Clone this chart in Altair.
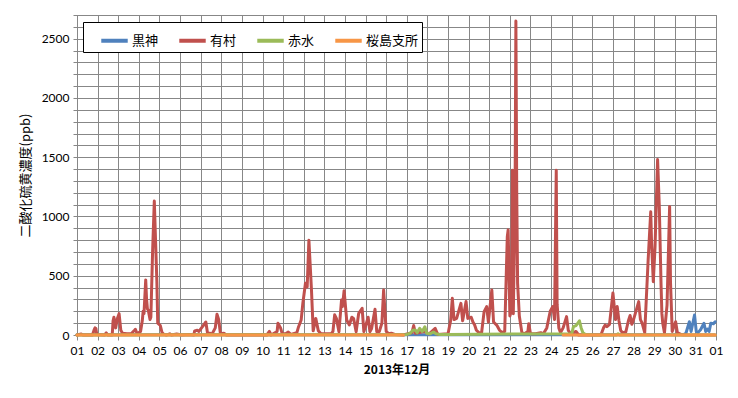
import altair as alt
import pandas as pd

# ---- data (day-of-December "DD HH", ppb) ----
series_names = ["黒神", "有村", "赤水", "桜島支所"]
series_colors = ["#4F81BD", "#C0504D", "#9BBB59", "#F79646"]

kurokami_time = ["01 00", "30 10", "30 13", "30 17", "30 19", "30 23", "31 01", "31 03",
                 "31 06", "31 10", "31 12", "31 14", "31 16", "31 18", "31 21", "31 23"]
kurokami_ppb = [2, 2, 15, 112, 30, 169, 30, 20, 45, 99, 30, 50, 30, 100, 95, 112]

arimura_time = [
    "01 00", "01 05", "01 07", "01 18", "01 20", "01 21", "01 22", "01 23",
    "02 08", "02 10", "02 12", "02 17", "02 18", "02 19", "02 21", "02 23",
    "03 01", "03 03", "03 05", "03 10", "03 15", "03 19", "03 20", "03 22",
    "04 02", "04 04", "04 05", "04 06", "04 08", "04 09", "04 10", "04 11",
    "04 13", "04 14", "04 16", "04 18", "04 19", "04 21", "04 22",
    "05 01", "05 03", "05 05", "05 08", "05 12", "05 14", "05 20",
    "06 02", "06 10", "06 16", "06 17", "06 20", "06 22",
    "07 01", "07 03", "07 06", "07 08", "07 11", "07 13", "07 17", "07 19", "07 21", "07 23",
    "08 03", "08 06", "10 05", "10 08", "10 10", "10 17", "10 18", "10 21", "10 23",
    "11 03", "11 06", "11 09", "11 16", "11 18", "11 21", "11 23",
    "12 02", "12 04", "12 06", "12 09", "12 11", "12 14", "12 17", "12 20",
    "13 08", "13 10", "13 12", "13 14", "13 17", "13 20", "13 21", "13 23",
    "14 02", "14 05", "14 08", "14 10", "14 13", "14 16", "14 20", "14 22",
    "15 01", "15 03", "15 05", "15 07", "15 11", "15 13", "15 16", "15 19", "15 21",
    "16 00", "16 03", "16 06", "16 10", "16 20",
    "17 06", "17 08", "17 10", "17 20", "18 02", "18 09", "18 12",
    "19 00", "19 03", "19 05", "19 07", "19 10", "19 15", "19 17", "19 21", "19 23",
    "20 03", "20 05", "20 07", "20 09", "20 12", "20 15", "20 18", "20 21", "20 23",
    "21 03", "21 05", "21 07", "21 09", "21 12", "21 15", "21 18", "21 21", "21 22",
    "22 00", "22 02", "22 03", "22 04", "22 06", "22 07", "22 08", "22 09", "22 11",
    "22 14", "22 17", "22 21", "22 22",
    "23 00", "23 06", "23 12", "23 15", "23 19", "23 23",
    "24 02", "24 04", "24 06", "24 07", "24 09", "24 11", "24 14", "24 18", "24 20", "24 23",
    "25 05", "25 08", "26 10", "26 13", "26 15", "26 17", "26 20",
    "27 00", "27 03", "27 05", "27 07", "27 09", "27 11", "27 15", "27 18", "27 20", "27 22",
    "28 00", "28 02", "28 06", "28 08", "28 10", "28 13", "28 17", "28 20", "28 21", "28 23",
    "29 01", "29 04", "29 06", "29 08", "29 09", "29 10", "29 12", "29 15", "29 18", "29 19", "29 21",
    "30 01", "30 03", "30 07", "30 12", "31 23"]
arimura_ppb = [
    0, 8, 0, 0, 45, 60, 55, 5,
    0, 18, 0, 0, 120, 150, 60, 140,
    180, 40, 15, 10, 10, 40, 48, 10,
    30, 120, 200, 180, 465, 300, 220, 210,
    130, 150, 700, 1130, 900, 450, 100,
    80, 20, 5, 0, 10, 0, 8,
    0, 5, 0, 35, 40, 30,
    60, 80, 110, 15, 15, 5, 60, 175, 130, 10,
    15, 0, 0, 30, 0, 30, 99, 60, 10,
    10, 25, 5, 20, 70, 127, 270,
    437, 405, 800, 380, 35, 140, 35, 10,
    10, 30, 170, 140, 28, 296, 240, 374,
    127, 85, 150, 140, 28, 183, 225, 28,
    100, 150, 28, 55, 217, 28, 30, 100, 380,
    30, 10, 15, 5, 0,
    20, 80, 15, 30, 10, 56, 5,
    10, 120, 310, 130, 140, 267, 120, 282, 140,
    150, 110, 85, 40, 20, 15, 197, 240, 110,
    380, 110, 95, 80, 40, 20, 30, 830, 887,
    160, 210, 1390, 180, 1100, 2650, 1200, 436, 160,
    20, 10, 30, 95,
    10, 10, 20, 10, 60, 200,
    240, 130, 1390, 260, 60, 20, 60, 155, 40, 10,
    30, 0, 0, 60, 84, 70, 90,
    355, 130, 240, 120, 40, 20, 25, 120, 165, 90,
    130, 180, 282, 130, 100, 20, 633, 1040, 774, 450,
    740, 1480, 1080, 430, 180, 100, 20, 253, 1085, 450, 30,
    112, 20, 5, 0, 0]

akamizu_time = ["01 00", "16 16", "17 00", "17 04", "17 07", "17 10", "17 12", "17 15",
                "17 18", "17 21", "17 23", "18 03", "18 07", "18 10", "18 14", "19 00",
                "25 00", "25 02", "25 05", "25 09", "25 11", "25 13", "25 16", "26 02",
                "27 04", "27 06", "27 08", "31 23"]
akamizu_ppb = [0, 3, 5, 15, 40, 42, 20, 56,
               30, 70, 15, 10, 25, 10, 5, 5,
               10, 70, 80, 120, 60, 20, 5, 0,
               0, 10, 0, 0]

# None marks the hours with no data (the line is broken there)
sakurajima_time = ["01 00", "16 20", "16 21", "24 13", "24 14", "31 23"]
sakurajima_ppb = [0, 0, None, None, 0, 0]

# ---- long table ----
rows = []
for name, times, vals in zip(series_names,
                             [kurokami_time, arimura_time, akamizu_time, sakurajima_time],
                             [kurokami_ppb, arimura_ppb, akamizu_ppb, sakurajima_ppb]):
    seg = 0
    for t, v in zip(times, vals):
        if v is None:
            seg += 1
            continue
        d, h = t.split()
        rows.append({"time": f"2013-12-{d}T{h}:00:00", "ppb": v,
                     "series": name, "seg": f"{name}-{seg}"})
df = pd.DataFrame(rows)

x_values = [alt.DateTime(year=2013, month=12, date=d) for d in range(1, 32)] + \
           [alt.DateTime(year=2014, month=1, date=1)]

color = alt.Color(
    "series:N",
    scale=alt.Scale(domain=series_names, range=series_colors),
    legend=alt.Legend(
        title=None, orient="none", legendX=6, legendY=7, direction="horizontal",
        columns=4, symbolType="stroke", symbolStrokeWidth=4, symbolSize=700,
        symbolOffset=13,
        labelFont="Noto Sans CJK JP", labelFontSize=13, labelColor="#000000",
        strokeColor="#000000", fillColor="#FFFFFF", padding=3,
        columnPadding=5, labelOffset=2,
    ),
)

base = alt.Chart(df).mark_line(strokeWidth=3, strokeJoin="round", strokeCap="round").encode(
    x=alt.X("time:T",
            scale=alt.Scale(domain=[alt.DateTime(year=2013, month=12, date=1),
                                    alt.DateTime(year=2014, month=1, date=1)]),
            axis=alt.Axis(values=x_values, format="%d", title="2013年12月",
                          titleFont="Noto Sans CJK JP", titleFontWeight="bold",
                          titleFontSize=12, titlePadding=8, labelPadding=5,
                          tickSize=5, labelFlush=False, labelOverlap=False,
                          labelAngle=0)),
    y=alt.Y("ppb:Q", scale=alt.Scale(domain=[0, 2700], nice=False),
            axis=alt.Axis(values=list(range(0, 2701, 100)), format="d",
                          labelExpr="datum.value % 500 == 0 ? datum.label : ''",
                          title="二酸化硫黄濃度(ppb)", titleFont="Noto Sans CJK JP",
                          titleFontWeight="normal", titleFontSize=13, titlePadding=9,
                          tickSize=4, labelPadding=4)),
    color=color,
    detail="seg:N",
)

layers = [base.transform_filter(alt.datum.series == s) for s in series_names]

chart = alt.layer(*layers).properties(
    width=639, height=320,
    autosize=alt.AutoSizeParams(type="none"),
    padding={"left": 69, "top": 7, "right": 14, "bottom": 55},
).configure_axis(
    labelFont="Lato", labelFontSize=12, labelColor="#000000", titleColor="#000000",
    gridColor="#878787", gridWidth=1, domainColor="#878787", tickColor="#878787",
).configure_view(stroke="#878787")

chart.save("out.html", embed_options={"renderer": "svg", "actions": False})
